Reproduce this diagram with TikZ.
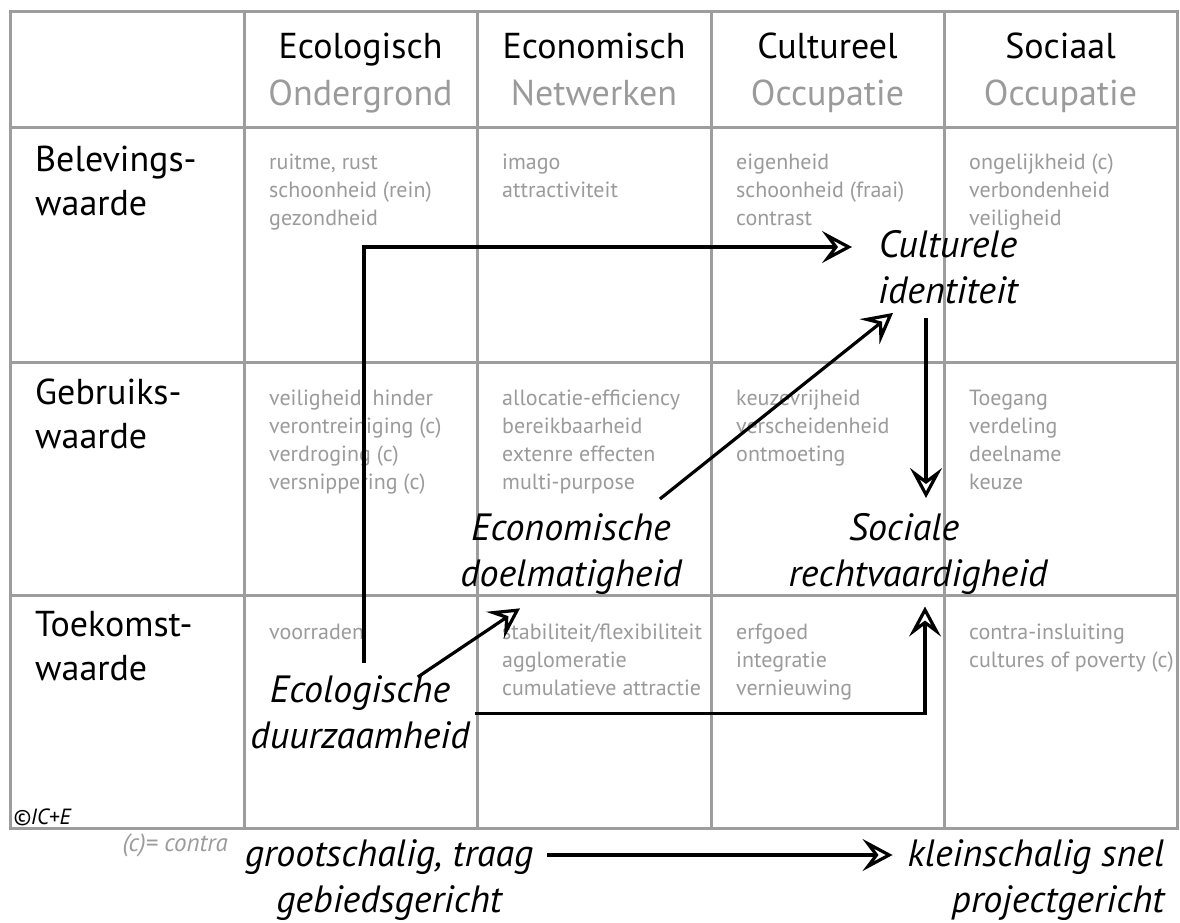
\documentclass[tikz,border=0pt]{standalone}
\usepackage{fontspec}
\setmainfont{PT Sans}
\usetikzlibrary{arrows.meta}
\definecolor{lijngrijs}{HTML}{9D9D9D}
\definecolor{tekstgrijs}{HTML}{9B9B9B}
\tikzset{
  kop/.style={anchor=north, inner sep=0pt, align=center, font=\fontsize{36}{47}\selectfont},
  rij/.style={anchor=north west, inner sep=0pt, align=left, font=\fontsize{36}{44}\selectfont},
  cel/.style={anchor=north west, inner sep=0pt, align=left, text=tekstgrijs, font=\fontsize{22}{28}\selectfont},
  doel/.style={anchor=north, inner sep=0pt, align=center, font=\itshape\fontsize{38}{46}\selectfont},
  omhoogrechts/.style={to path={|- (\tikztotarget) \tikztonodes}},
  rechtsomhoog/.style={to path={-| (\tikztotarget) \tikztonodes}}
}
\begin{document}
\begin{tikzpicture}[x=1pt,y=-1pt]
    \clip (0,0) rectangle (1180,923);
    \fill[white] (0,0) rectangle (1180,923);
    \begin{scope}[color=lijngrijs, line width=3pt]
        \draw (10,12) rectangle (1177,828);
        \foreach \x in {244,477,711,944}
            \draw (\x,12) -- (\x,828);
        \foreach \y in {128,362,595}
            \draw (10,\y) -- (1177,\y);
    \end{scope}
    \begin{scope}[every node/.style=kop]
        \node (h1) at (360.5,33) {Ecologisch\\\textcolor{tekstgrijs}{Ondergrond}};
        \node (h2) at (594,33) {Economisch\\\textcolor{tekstgrijs}{Netwerken}};
        \node (h3) at (827.5,33) {Cultureel\\\textcolor{tekstgrijs}{Occupatie}};
        \node (h4) at (1060.5,33) {Sociaal\\\textcolor{tekstgrijs}{Occupatie}};
    \end{scope}
    \begin{scope}[every node/.style=rij]
        \node (r1) at (35,146) {Belevings-\\waarde};
        \node (r2) at (35,379) {Gebruiks-\\waarde};
        \node (r3) at (35,611) {Toekomst-\\waarde};
    \end{scope}
    \begin{scope}[every node/.style=cel]
        \node (c11) at (269,154) {ruitme, rust\\schoonheid (rein)\\gezondheid};
        \node (c21) at (502,154) {imago\\attractiviteit};
        \node (c31) at (736,154) {eigenheid\\schoonheid (fraai)\\contrast};
        \node (c41) at (969,154) {ongelijkheid (c)\\verbondenheid\\veiligheid};
        \node (c12) at (269,390) {veiligheid, hinder\\verontreiniging (c)\\verdroging (c)\\versnippering (c)};
        \node (c22) at (502,390) {allocatie-efficiency\\bereikbaarheid\\extenre effecten\\multi-purpose};
        \node (c32) at (736,390) {keuzevrijheid\\verscheidenheid\\ontmoeting};
        \node (c42) at (969,390) {Toegang\\verdeling\\deelname\\keuze};
        \node (c13) at (269,624) {voorraden};
        \node (c23) at (502,624) {stabiliteit/flexibiliteit\\agglomeratie\\cumulatieve attractie};
        \node (c33) at (736,624) {erfgoed\\integratie\\vernieuwing};
        \node (c43) at (969,624) {contra-insluiting\\cultures of poverty (c)};
    \end{scope}
    \begin{scope}[every node/.style=doel]
        \node (cult) at (948,230) {Culturele\\identiteit};
        \node (econ) at (571,513) {Economische\\doelmatigheid};
        \node (soc) at (918,513) {Sociale\hspace*{28pt}\\rechtvaardigheid};
        \node (eco) at (360,675) {Ecologische\\duurzaamheid};
        \node (groot) at (389,839) {grootschalig, traag\\gebiedsgericht};
        \node[align=right] (klein) at (1036,839) {kleinschalig snel\\projectgericht};
    \end{scope}
    \node[anchor=base west, inner sep=0pt, font=\itshape\fontsize{22}{24}\selectfont] (copy) at (13,824) {©IC+E};
    \node[anchor=base east, inner sep=0pt, text=tekstgrijs, font=\itshape\fontsize{25}{27}\selectfont] (legenda) at (228,851) {(c)= contra};
    \begin{scope}[every edge/.style={draw, line width=3.2pt, -{Stealth[open, length=30pt, width=32pt, inset=12pt]}}]
        \path
            ([xshift=4pt,yshift=12pt]eco.north) edge[omhoogrechts] ([xshift=-26pt,yshift=-17pt]cult.north west)
            ([xshift=-52pt,yshift=-2pt]eco.north east) edge ([xshift=-51pt,yshift=-14pt]econ.south)
            ([xshift=-22pt,yshift=14pt]econ.north east) edge ([xshift=15pt,yshift=-9pt]cult.south west)
            ([xshift=-22pt,yshift=-14pt]cult.south) edge ([xshift=8pt,yshift=15pt]soc.north)
            ([xshift=5pt,yshift=-2pt]eco.east) edge[rechtsomhoog] ([xshift=7pt,yshift=-12pt]soc.south)
            ([xshift=14pt,yshift=-16pt]groot.north east) edge ([xshift=-15pt,yshift=-16pt]klein.north west);
    \end{scope}
\end{tikzpicture}
\end{document}
